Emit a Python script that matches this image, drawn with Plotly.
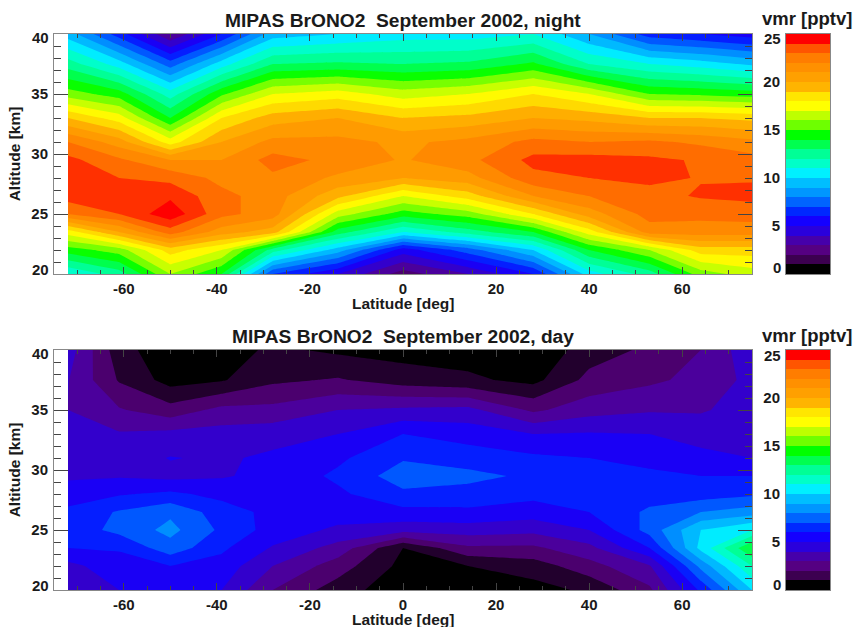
import numpy as np
import plotly.graph_objects as go

latitudes = [-72, -61, -50, -39, -28, -14, 0, 14, 28, 40, 53, 64, 75]
altitudes = [20, 22, 23.5, 25, 26.5, 28, 29.5, 31, 33, 35, 37.5, 40]

# one row per latitude, values per altitude
night_vmr = [
    [11, 14.5, 17.5, 22, 23.5, 23.7, 23.3, 22, 19, 15.5, 12.5, 9.5],
    [12.5, 15.5, 20, 23, 23.4, 23, 22.2, 20.5, 17.5, 14.5, 10.5, 6.5],
    [16, 18.5, 22.5, 24.7, 23.8, 22.7, 21, 17.5, 14, 11.5, 7.5, 3],
    [14, 17, 20.5, 22.3, 22.3, 21.7, 21, 20, 18, 14.8, 10.5, 6],
    [7, 12.5, 19.5, 21.5, 21.5, 21.8, 22.4, 21.3, 19.5, 17, 13, 9.5],
    [5, 9.5, 13.5, 16.5, 19.3, 20.8, 21.7, 21.3, 20, 17.5, 13.2, 10],
    [2.5, 5.5, 11, 14.5, 17, 20, 20.9, 20.8, 19, 16.5, 13, 10.5],
    [4, 7.5, 12.5, 15.5, 18.5, 20.6, 21.7, 21.3, 19.3, 17, 13.2, 10.5],
    [6, 10, 14, 18, 21, 22.7, 23.3, 22.3, 20, 18, 14.2, 11],
    [10.5, 14, 17.5, 20.5, 22, 23, 23.4, 22, 19.7, 17, 12, 9],
    [12.5, 16, 21.5, 22.4, 22.7, 23.2, 23.2, 22.2, 19, 15, 11, 6.5],
    [15.5, 18.5, 21.5, 22.3, 23.1, 22.95, 22.9, 21.8, 19, 14.8, 10.5, 6],
    [16.5, 18.5, 21.5, 22.4, 23.3, 22.9, 22.4, 21.3, 18.7, 14.5, 9.8, 5.5],
]
day_vmr = [
    [4.2, 4.7, 6, 6.4, 6.3, 5.3, 4.9, 4.6, 4.2, 4, 4.05, 4.5],
    [5, 5.6, 6.1, 7.3, 7.1, 5.9, 4.9, 4.5, 4.1, 3.1, 1.9, 1.4],
    [5.3, 6, 7.6, 8.3, 7.8, 6.2, 4.7, 5.05, 4.3, 2.4, 0.6, 0.3],
    [5, 5.6, 6.2, 6.8, 6.5, 5.7, 4.9, 4.85, 4.4, 3.3, 0.9, 0.5],
    [3, 4, 4.9, 5.6, 5.7, 5.6, 5.3, 5.2, 4.6, 3.3, 1.8, 1.2],
    [1.5, 2.5, 3.6, 4.8, 5.5, 5.8, 6.2, 5.8, 5, 4, 2.1, 0.8],
    [0.3, 0.7, 1, 4.4, 5.7, 6.8, 7.5, 6.9, 6, 4.2, 1.5, 0.6],
    [0.3, 1, 2.8, 4.5, 5.8, 6.6, 7.3, 6.5, 5.6, 4.3, 1.2, 0.5],
    [0.6, 1.5, 2.8, 4.3, 5.5, 6.3, 6.8, 6.2, 5, 2.8, 0.7, 0.2],
    [1.2, 2.6, 3.7, 5, 6, 6.4, 6.5, 6, 5.1, 3.6, 2.3, 1.5],
    [2.8, 3.9, 6, 7.4, 7.2, 6.5, 6.2, 5.7, 5, 3.9, 2.8, 2.2],
    [6.2, 8.3, 10.3, 10, 8, 6.5, 6, 5.3, 4.6, 3.9, 3.3, 3],
    [10, 12, 14, 11, 8.5, 6.8, 6, 5, 4.6, 4.4, 4.3, 4.7],
]
band_colors = [
    "#000000", "#3c0050", "#550082", "#4600aa", "#2a00dc", "#1400ff", "#0028ff", "#0064ff",
    "#0096ff", "#00beff", "#00f0ff", "#00ffc8", "#00ff96", "#00ff50", "#00ff00", "#6eff00",
    "#beff00", "#ffff00", "#ffe600", "#ffb400", "#ffa000", "#ff9000", "#ff7d00", "#ff5500",
    "#ff0000",
]
bar_levels = list(range(25))
titles = ["MIPAS BrONO2  September 2002, night", "MIPAS BrONO2  September 2002, day"]
lat_ticks = [-60, -40, -20, 0, 20, 40, 60]
lat_labels = ["-60", "-40", "-20", "0", "20", "40", "60"]
alt_ticks = [20, 25, 30, 35, 40]
bar_ticks = [0, 5, 10, 15, 20, 25]

W, H = 854, 627
FONT = "Liberation Sans"
INK = "#1a1a1a"
TICK = dict(family=FONT, size=15, color=INK, weight="bold")
def px(x): return x / W
def py(y): return 1 - y / H

# plotly maps a filled band k to the colour at (k+1)/26 for levels 0..25
scale_fill = [[0, band_colors[0]]]
for k, c in enumerate(band_colors):
    scale_fill.append([(k + 1) / 26, c])
scale_fill.append([1, band_colors[-1]])
scale_bar = []
for k, c in enumerate(band_colors):
    scale_bar += [[k / 25, c], [(k + 1) / 25, c]]

panels = [(34, 274), (350, 590)]
fig = go.Figure()
annotations = []
layout = {}
for i, (data, (top, bot)) in enumerate(zip([night_vmr, day_vmr], panels)):
    n = i + 1
    sx = "" if i == 0 else "2"
    xname, yname = f"xaxis{sx}", f"yaxis{sx}"
    fig.add_trace(go.Contour(
        x=latitudes, y=altitudes, z=np.array(data).T,
        xaxis=f"x{sx}", yaxis=f"y{sx}",
        zmin=0, zmax=25, autocontour=False,
        contours=dict(start=0, end=25, size=1, coloring="fill", showlines=False),
        line=dict(width=0, smoothing=0), colorscale=scale_fill, showscale=False,
    ))
    layout[xname] = dict(
        domain=[px(54), px(752)], range=[-75, 75], anchor=f"y{sx}",
        tickvals=lat_ticks, ticktext=lat_labels, ticks="inside", ticklen=7, tickwidth=1, tickcolor="#444",
        minor=dict(dtick=5, tick0=0, ticks="inside", ticklen=4, tickwidth=1, tickcolor="#444"),
        showline=True, linecolor="#888", linewidth=1, mirror="ticks", showgrid=False, zeroline=False,
        tickfont=TICK, ticklabelstandoff=1,
    )
    layout[yname] = dict(
        domain=[py(bot), py(top)], range=[20, 40], anchor=f"x{sx}",
        tickvals=alt_ticks, ticktext=["", "25", "30", "35", ""], ticks="inside", ticklen=14, tickwidth=1, tickcolor="#444",
        minor=dict(dtick=1, tick0=0, ticks="inside", ticklen=7, tickwidth=1, tickcolor="#444"),
        showline=True, linecolor="#888", linewidth=1, mirror="ticks", showgrid=False, zeroline=False,
        tickfont=TICK, ticklabelstandoff=2,
        title=dict(text="<b>Altitude [km]</b>", font=dict(family=FONT, size=15.5, color=INK), standoff=6),
    )
    # colour bar as its own small axes
    cx, cy = f"xaxis{2*n+1}", f"yaxis{2*n+1}"
    fig.add_trace(go.Heatmap(
        x=[0], y=[l + 0.5 for l in bar_levels], z=[[l + 0.5] for l in bar_levels],
        xaxis=f"x{2*n+1}", yaxis=f"y{2*n+1}", zmin=0, zmax=25, colorscale=scale_bar, showscale=False,
    ))
    layout[cx] = dict(domain=[px(786), px(830)], range=[-0.5, 0.5], anchor=f"y{2*n+1}",
                      showticklabels=False, ticks="", showgrid=False, zeroline=False,
                      showline=True, linecolor="#888", linewidth=1, mirror=True)
    layout[cy] = dict(domain=[py(bot), py(top)], range=[0, 25], anchor=f"x{2*n+1}",
                      tickvals=bar_ticks, ticktext=["", "5", "10", "15", "20", ""], ticks="",
                      showgrid=False, zeroline=False, showline=True, linecolor="#888", linewidth=1, mirror=True,
                      tickfont=TICK, ticklabelstandoff=2)
    # plot title, bar title, x title, and the end labels that sit inside the axis ends
    annotations.append(dict(text=f"<b>{titles[i]}</b>", x=px(403), y=py(top - 14), xref="paper", yref="paper",
                            showarrow=False, font=dict(family=FONT, size=19.2, color=INK), xanchor="center", yanchor="middle"))
    annotations.append(dict(text="<b>vmr [pptv]</b>", x=px(807), y=py(top - 15), xref="paper", yref="paper",
                            showarrow=False, font=dict(family=FONT, size=18.5, color=INK), xanchor="center", yanchor="middle"))
    annotations.append(dict(text="<b>Latitude [deg]</b>", x=px(403), y=py(bot + 29.5), xref="paper", yref="paper",
                            showarrow=False, font=dict(family=FONT, size=15.5, color=INK), xanchor="center", yanchor="middle"))
    for txt, yy, xright in [(str(alt_ticks[0]), bot - 5, 51), (str(alt_ticks[-1]), top + 4, 51),
                            (str(bar_ticks[0]), bot - 6, 783), (str(bar_ticks[-1]), top + 5, 783)]:
        annotations.append(dict(text=txt, x=px(xright), y=py(yy), xref="paper", yref="paper", showarrow=False,
                                font=TICK, xanchor="right", yanchor="middle"))

fig.update_layout(width=W, height=H, margin=dict(l=0, r=0, t=0, b=0), paper_bgcolor="white",
                  plot_bgcolor="white", showlegend=False, annotations=annotations, **layout)
fig.write_html("out.html", config=dict(displayModeBar=False),
               post_script="document.body.style.margin='0';document.documentElement.style.overflow='hidden';")
